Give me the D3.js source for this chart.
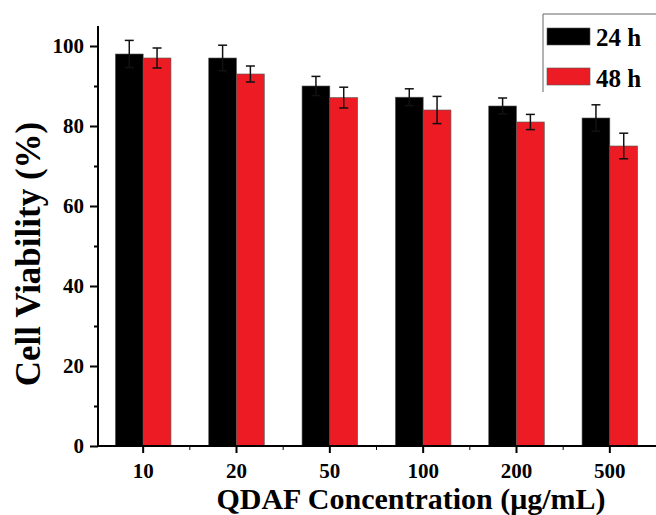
<!DOCTYPE html>
<html>
<head>
<meta charset="utf-8">
<script src="https://cdn.jsdelivr.net/npm/d3@7"></script>
<style>
  body { margin: 0; background: #fff; }
  text { font-family: "Liberation Serif", "Times New Roman", serif; font-weight: bold; }
</style>
</head>
<body>
<div id="chart"></div>
<script>
// data
const concentrations = ["10", "20", "50", "100", "200", "500"];
const series = ["24 h", "48 h"];
const viability24 = [98, 97, 90, 87.2, 85, 82];
const viability48 = [97, 93, 87.1, 84, 81, 75];
const err24 = [3.4, 3.2, 2.4, 2.1, 2, 3.3];
const err48 = [2.5, 2, 2.6, 3.4, 1.9, 3.2];
const yTicks = [0, 20, 40, 60, 80, 100];
const colors = ["#000000", "#ed1c24"];

const W = 656, H = 515;
const svg = d3.select("#chart").append("svg")
  .attr("width", W).attr("height", H);

// x: bands run from the y axis past the right edge
const x = d3.scaleBand()
  .domain(concentrations)
  .range([96.5, 656.5]);

const x1 = d3.scaleBand()
  .domain(series)
  .range([0, x.bandwidth()])
  .paddingOuter(0.68);

const y = d3.scaleLinear()
  .domain([0, 105])
  .range([446, 26]);

const rows = concentrations.map((c, i) => ({
  c: c,
  vals: [
    { s: series[0], v: viability24[i], e: err24[i] },
    { s: series[1], v: viability48[i], e: err48[i] }
  ]
}));

// bars
const groups = svg.append("g").selectAll("g")
  .data(rows)
  .enter().append("g")
    .attr("transform", d => "translate(" + x(d.c) + ",0)");

groups.selectAll("rect")
  .data(d => d.vals)
  .enter().append("rect")
    .attr("x", d => x1(d.s))
    .attr("y", d => y(d.v))
    .attr("width", x1.bandwidth())
    .attr("height", d => y(0) - y(d.v))
    .attr("fill", (d, i) => colors[i])
    .attr("stroke", "#555")
    .attr("stroke-width", 0.6);

// error bars
const eb = groups.selectAll("g.err")
  .data(d => d.vals)
  .enter().append("g")
    .attr("class", "err")
    .attr("stroke", "#111")
    .attr("stroke-width", 1.5);
const cx = d => x1(d.s) + x1.bandwidth() / 2;
eb.append("line")
  .attr("x1", cx).attr("x2", cx)
  .attr("y1", d => y(d.v + d.e)).attr("y2", d => y(d.v - d.e));
eb.append("line")
  .attr("x1", d => cx(d) - 4.5).attr("x2", d => cx(d) + 4.5)
  .attr("y1", d => y(d.v + d.e)).attr("y2", d => y(d.v + d.e));
eb.append("line")
  .attr("x1", d => cx(d) - 4.5).attr("x2", d => cx(d) + 4.5)
  .attr("y1", d => y(d.v - d.e)).attr("y2", d => y(d.v - d.e));

// y axis
const yAxis = svg.append("g")
  .attr("transform", "translate(98,0)")
  .call(d3.axisLeft(y).tickValues(yTicks).tickSize(8).tickPadding(6));
svg.append("g")
  .attr("transform", "translate(98,0)")
  .call(d3.axisLeft(y).tickValues([10, 30, 50, 70, 90]).tickSize(4).tickFormat(""))
  .select(".domain").remove();
yAxis.select(".domain").attr("d", "M0," + y(0) + "V" + y(105));

// x axis
const xAxis = svg.append("g")
  .attr("transform", "translate(0," + y(0) + ")")
  .call(d3.axisBottom(x).tickSize(7).tickPadding(10).tickSizeOuter(0));
xAxis.select(".domain").attr("d", "M98,0H656");
svg.append("g")
  .attr("transform", "translate(0," + y(0) + ")")
  .selectAll("line")
  .data(concentrations.slice(1))
  .enter().append("line")
    .attr("x1", d => x(d)).attr("x2", d => x(d))
    .attr("y1", 0).attr("y2", 4)
    .attr("stroke", "#000");

svg.selectAll(".domain, .tick line").attr("stroke", "#000").attr("stroke-width", 2);
svg.selectAll(".tick text")
  .attr("fill", "#000")
  .style("font-size", "21px")
  .style("font-family", "'Liberation Serif', serif")
  .style("font-weight", "bold");

// axis titles
svg.append("text")
  .attr("x", 411).attr("y", 509)
  .attr("text-anchor", "middle")
  .style("font-size", "30px")
  .text("QDAF Concentration (\u03bcg/mL)");

svg.append("text")
  .attr("transform", "translate(40,254) rotate(-90)")
  .attr("text-anchor", "middle")
  .style("font-size", "35px")
  .text("Cell Viability (%)");

// legend
const lg = svg.append("g");
lg.append("path")
  .attr("d", "M656,14H543V92")
  .attr("fill", "none")
  .attr("stroke", "#666")
  .attr("stroke-width", 1);
series.forEach((s, i) => {
  lg.append("rect")
    .attr("x", 547).attr("y", 28 + i * 40)
    .attr("width", 43).attr("height", 17)
    .attr("fill", colors[i])
    .attr("stroke", "#555").attr("stroke-width", 0.6);
  lg.append("text")
    .attr("x", 596).attr("y", 46 + i * 41)
    .style("font-size", "25px")
    .text(s);
});
</script>
</body>
</html>
